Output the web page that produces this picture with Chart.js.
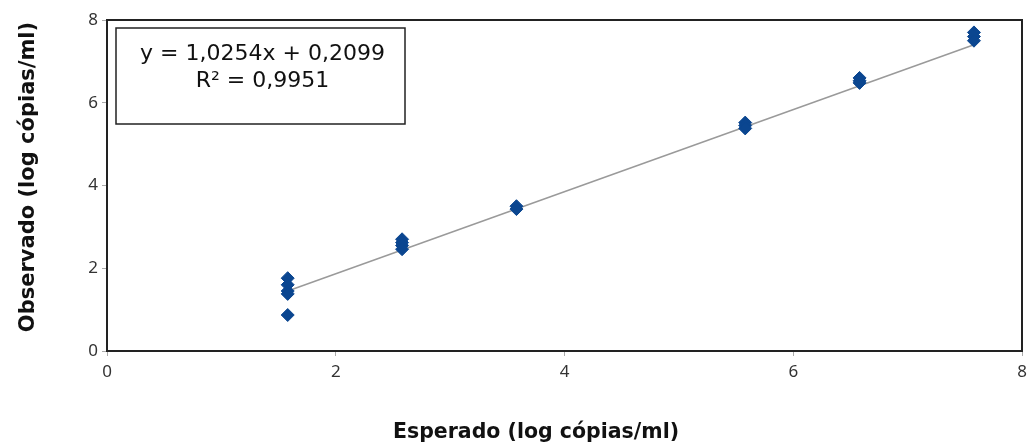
<!DOCTYPE html>
<html>
<head>
<meta charset="utf-8">
<script src="https://cdn.jsdelivr.net/npm/chart.js@4/dist/chart.umd.min.js"></script>
<style>
  html, body { margin: 0; padding: 0; background: #fff; }
  #wrap { width: 1035px; height: 447px; }
</style>
</head>
<body>
<div id="wrap"><canvas id="grafico"></canvas></div>
<script>
// Valores esperados (log cópias/ml) e observados
const esperado = [1.58, 1.58, 1.58, 1.58, 1.58,
                  2.58, 2.58, 2.58, 2.58,
                  3.58, 3.58,
                  5.58, 5.58, 5.58,
                  6.58, 6.58, 6.58,
                  7.58, 7.58, 7.58];
const observado = [1.76, 1.6, 1.45, 1.38, 0.87,
                   2.7, 2.62, 2.55, 2.46,
                   3.5, 3.43,
                   5.52, 5.45, 5.38,
                   6.6, 6.53, 6.48,
                   7.7, 7.6, 7.5];
// Linha de tendência (pontos extremos)
const tendenciaX = [1.58, 7.58];
const tendenciaY = [1.45, 7.4];
const ticksEixo = [0, 2, 4, 6, 8];
const textoEquacao = ['y = 1,0254x + 0,2099', 'R² = 0,9951'];
const tituloX = 'Esperado (log cópias/ml)';
const tituloY = 'Observado (log cópias/ml)';

const pontos = esperado.map((x, i) => ({ x: x, y: observado[i] }));
const linha = tendenciaX.map((x, i) => ({ x: x, y: tendenciaY[i] }));

// Moldura da área do gráfico, caixa da equação e títulos dos eixos
const molduraPlugin = {
    id: 'moldura',
    afterDraw(chart) {
        const { ctx, chartArea: a } = chart;
        ctx.save();
        ctx.strokeStyle = '#222';
        ctx.lineWidth = 2;
        ctx.strokeRect(a.left, a.top, a.right - a.left, a.bottom - a.top);

        const bx = a.left + 9, by = a.top + 8, bw = 289, bh = 96;
        ctx.fillStyle = '#fff';
        ctx.fillRect(bx, by, bw, bh);
        ctx.lineWidth = 1.5;
        ctx.strokeRect(bx, by, bw, bh);
        ctx.fillStyle = '#111';
        ctx.font = '22px "DejaVu Sans", sans-serif';
        ctx.textAlign = 'center';
        ctx.textBaseline = 'middle';
        ctx.fillText(textoEquacao[0], bx + bw / 2 + 2, by + 26);
        ctx.fillText(textoEquacao[1], bx + bw / 2 + 2, by + 53);

        // títulos dos eixos
        ctx.font = 'bold 20.5px "DejaVu Sans", sans-serif';
        ctx.textBaseline = 'alphabetic';
        ctx.fillText(tituloX, 536, 438);
        ctx.translate(34, 177);
        ctx.rotate(-Math.PI / 2);
        ctx.font = 'bold 21px "DejaVu Sans", sans-serif';
        ctx.fillText(tituloY, 0, 0);
        ctx.restore();
    }
};

new Chart(document.getElementById('grafico').getContext('2d'), {
    type: 'scatter',
    data: {
        datasets: [
            {
                data: pontos,
                pointStyle: 'rectRot',
                pointRadius: 6.5,
                backgroundColor: '#0b4690',
                borderColor: '#0b4690',
                borderWidth: 1,
                order: 1
            },
            {
                data: linha,
                showLine: true,
                pointRadius: 0,
                borderColor: '#9a9a9a',
                borderWidth: 1.5,
                order: 2
            }
        ]
    },
    options: {
        responsive: true,
        maintainAspectRatio: false,
        animation: false,
        layout: { padding: { top: 20, right: 13, left: 0, bottom: 0 } },
        plugins: {
            legend: { display: false },
            tooltip: { enabled: false }
        },
        scales: {
            x: {
                type: 'linear',
                min: 0,
                max: 8,
                afterBuildTicks: (s) => { s.ticks = ticksEixo.map(v => ({ value: v })); },
                afterFit: (s) => { s.height = 96; },
                grid: { drawOnChartArea: false, drawTicks: true, tickLength: 5, color: '#aaa' },
                border: { display: false },
                ticks: { color: '#333', font: { size: 17, family: '"Noto Sans", sans-serif' }, padding: 6 }
            },
            y: {
                type: 'linear',
                min: 0,
                max: 8,
                afterBuildTicks: (s) => { s.ticks = ticksEixo.map(v => ({ value: v })); },
                afterFit: (s) => { s.width = 107; },
                grid: { drawOnChartArea: false, drawTicks: true, tickLength: 5, color: '#aaa' },
                border: { display: false },
                ticks: { color: '#333', font: { size: 17, family: '"Noto Sans", sans-serif' }, padding: 4 }
            }
        }
    },
    plugins: [molduraPlugin]
});
</script>
</body>
</html>
